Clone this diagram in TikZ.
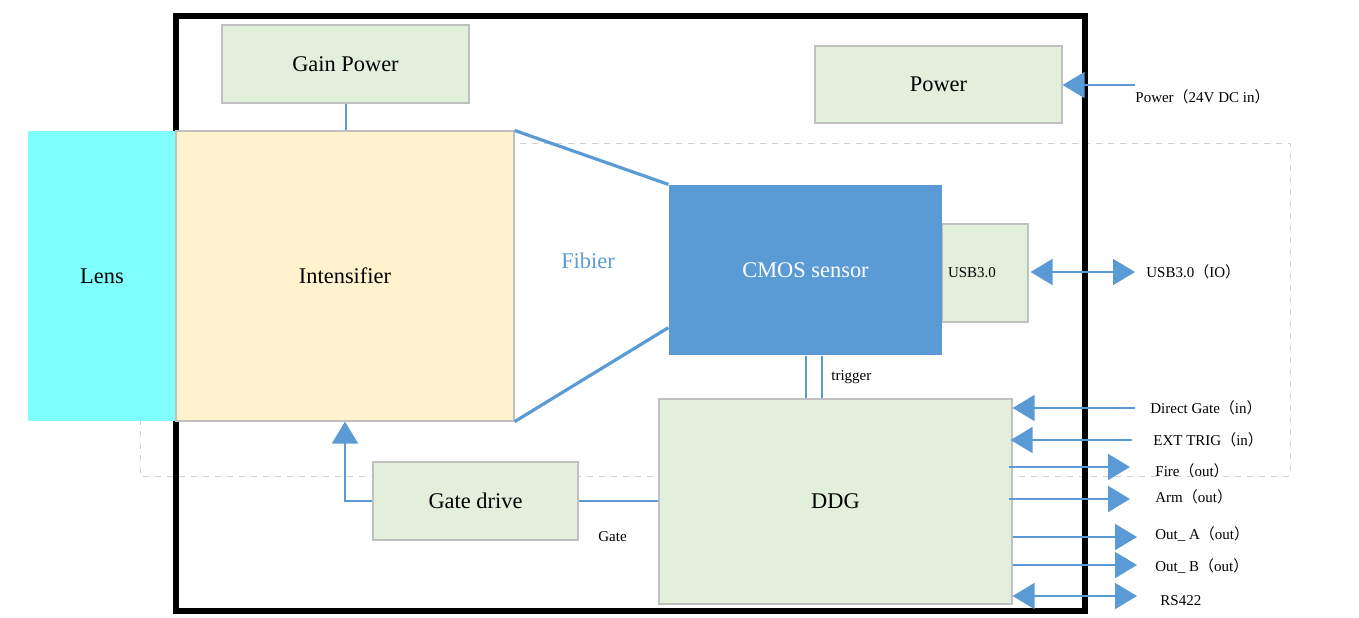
\documentclass[tikz,border=0pt]{standalone}
\usepackage{fontspec}
\setmainfont{Liberation Serif}
\newfontfamily\cjk{Noto Sans CJK SC}
\usetikzlibrary{arrows.meta,calc}
\definecolor{lensc}{RGB}{128,255,255}
\definecolor{intc}{RGB}{255,242,204}
\definecolor{boxc}{RGB}{226,239,218}
\definecolor{linec}{RGB}{91,155,213}
\definecolor{edgec}{RGB}{192,192,192}
\newcommand{\fwl}{{\cjk （}}
\newcommand{\fwr}{{\cjk ）}}
\tikzset{
  blk/.style={draw=edgec, line width=0.6pt, fill=boxc, inner sep=0pt,
    font=\fontsize{11.2}{13}\selectfont},
  lbl/.style={font=\fontsize{7.5}{9}\selectfont, inner sep=0pt, anchor=west},
  link/.style={draw=linec, line width=1pt},
  bigarrow/.style={link, -{Triangle[length=11pt,width=13pt]}},
  dblarrow/.style={link, {Triangle[length=11pt,width=13pt]}-{Triangle[length=11pt,width=13pt]}}
}
\begin{document}
\begin{tikzpicture}[x=0.5pt,y=0.5pt,yscale=-1,xscale=1]
\useasboundingbox (0,0) rectangle (1359,617);

%Dashed Rectangle
\draw [gray!35, dashed, line width=0.5pt] (140,143) rectangle (1290,476);
%Camera frame
\draw [line width=3pt] (176,16) rectangle (1085,611);

%Shape: Rectangle
\node [blk, fill=lensc, draw=none, minimum width=74pt, minimum height=145pt] (lens) at (102,276) {Lens};
\node [blk, fill=intc, minimum width=169pt, minimum height=145pt] (intens) at (345,276) {Intensifier};
\node [blk, minimum width=123.5pt, minimum height=39pt] (gainpow) at (345.5,64) {Gain Power};
\node [blk, minimum width=123.5pt, minimum height=38.5pt] (power) at (938.5,84.5) {Power};
\node [blk, minimum width=43pt, minimum height=49pt, text width=37pt, inner xsep=3pt, align=left,
  font=\fontsize{7.5}{9}\selectfont] (usb) at (985,273) {USB3.0};
\node [blk, fill=linec, draw=none, text=white, minimum width=136.5pt, minimum height=85pt] (cmos) at (805.5,270) {CMOS sensor};
\node [blk, minimum width=176.5pt, minimum height=102.5pt] (ddg) at (835.5,501.5) {DDG};
\node [blk, minimum width=102.5pt, minimum height=39pt] (gatedrv) at (475.5,501) {Gate drive};

%Fibier
\draw [link, line width=1.6pt] (intens.north east) -- (cmos.north west);
\draw [link, line width=1.6pt] (intens.south east) -- ($(cmos.south west)+(0,-28)$);
\draw (588,261) node [font=\fontsize{11.2}{13}\selectfont, text=linec] (fib) {Fibier};

%Straight Lines
\draw [link] (gainpow.south) -- (gainpow.south |- intens.north);
\draw [link] (cmos.south) -- (cmos.south |- ddg.north);
\draw [link] ($(cmos.south)+(16,0)$) coordinate (trg) -- (trg |- ddg.north);
\draw [link] (gatedrv.east) -- (gatedrv.east -| ddg.west);
\draw [bigarrow] (gatedrv.west) -| (intens.south);

% Text Node
\draw (831,377) node [lbl] (trig) {trigger};
\draw (598,537) node [lbl] (gate) {Gate};

%Outside connectors
\coordinate (pwrin) at (1135,85);
\coordinate (usbio) at (1135,272);
\coordinate (dgin) at (1135,408);
\coordinate (etin) at (1132,440);
\coordinate (fire) at (1130,467);
\coordinate (arm) at (1130,499);
\coordinate (outa) at (1137,537);
\coordinate (outb) at (1137,565);
\coordinate (rs) at (1137,596);
\draw [bigarrow] (pwrin) -- (pwrin -| power.east);
\draw [dblarrow] ($(usb.east |- usbio)+(2,0)$) -- (usbio);
\draw [bigarrow] (dgin) -- (dgin -| ddg.east);
\draw [bigarrow] (etin) -- ($(etin -| ddg.east)+(-2,0)$);
\draw [bigarrow] ($(fire -| ddg.east)+(-4,0)$) -- (fire);
\draw [bigarrow] ($(arm -| ddg.east)+(-4,0)$) -- (arm);
\draw [bigarrow] (outa -| ddg.east) -- (outa);
\draw [bigarrow] (outb -| ddg.east) -- (outb);
\draw [dblarrow] (rs -| ddg.east) -- (rs);

% Text Node
\draw (1135,97) node [lbl] (pwrlbl) {Power\fwl 24V DC in\fwr};
\draw (1146,272) node [lbl] (usblbl) {USB3.0\fwl IO\fwr};
\draw (1150,408) node [lbl] (dglbl) {Direct Gate\fwl in\fwr};
\draw (1153,440) node [lbl] (etlbl) {EXT TRIG\fwl in\fwr};
\draw (1155,471) node [lbl] (firelbl) {Fire\fwl out\fwr};
\draw (1155,497) node [lbl] (armlbl) {Arm\fwl out\fwr};
\draw (1155,534) node [lbl] (outalbl) {Out\_ A\fwl out\fwr};
\draw (1155,566) node [lbl] (outblbl) {Out\_ B\fwl out\fwr};
\draw (1160,601) node [lbl] (rslbl) {RS422};

\end{tikzpicture}
\end{document}
